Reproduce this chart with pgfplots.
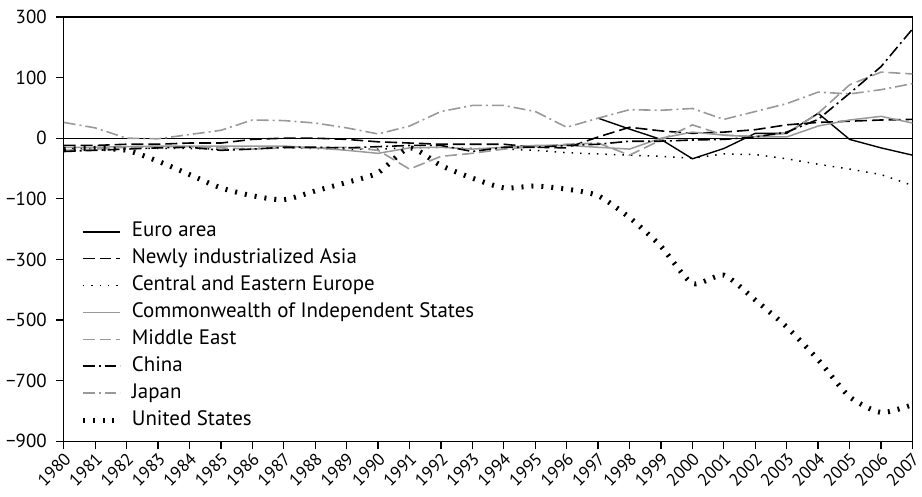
\documentclass[border=0pt]{standalone}
\usepackage{fontspec}
\setmainfont{PT Sans}
\usepackage{pgfplots}
\pgfplotsset{compat=1.18}
\definecolor{lg}{gray}{0.6}
\begin{document}
\begin{tikzpicture}
\begin{axis}[
  scale only axis,
  width=852pt, height=426pt,
  xmin=1980, xmax=2007,
  ymin=-900, ymax=300,
  y coord trafo/.code={\pgfmathparse{abs(#1)<=100 ? #1/100 : (#1>0 ? 1+(#1-100)/200 : -1+(#1+100)/200)}},
  y coord inv trafo/.code={\pgfmathparse{abs(#1)<=1 ? #1*100 : (#1>0 ? 100+(#1-1)*200 : -100+(#1+1)*200)}},
  ytick={300,100,0,-100,-300,-500,-700,-900},
  yticklabels={300,100,0,−100,−300,−500,−700,−900},
  xtick={1980,...,2007},
  xticklabel style={rotate=45, anchor=north east, font=\fontsize{17.5}{20}\selectfont, inner sep=1pt, xshift=-1pt},
  yticklabel style={font=\fontsize{19}{22}\selectfont, inner sep=2pt, xshift=-7pt},
  /pgf/number format/.cd, 1000 sep={}, assume math mode=true, /pgfplots/.cd,
  xtick pos=left, ytick pos=left,
  tick align=outside,
  major tick length=8pt,
  axis line style={line width=1.2pt},
  every tick/.style={black, line width=1.2pt},
  legend style={draw=none, fill=none, at={(0.0155,0.527)}, anchor=north west,
    font=\fontsize{21}{24}\selectfont, row sep=3pt,
    nodes={inner sep=2pt, text height=15pt, text depth=5pt},
    /tikz/every odd column/.append style={column sep=7pt}},
  legend cell align=left,
  legend image code/.code={\draw[#1] (0pt,0pt) -- (38pt,0pt);},
]
\addplot[black, line width=1pt, forget plot] coordinates {(1980,0) (2007,0)};
% Euro area
\addplot[black, line width=1.4pt] coordinates {
(1997,33) (1998,15) (1999,-2) (2000,-34) (2001,-17) (2002,8) (2003,8) (2004,41) (2005,-2) (2006,-16) (2007,-28)};
\addlegendentry{Euro area}
% Newly industrialized Asia
\addplot[black, line width=1.6pt, dash pattern=on 12pt off 5pt] coordinates {
(1980,-12) (1981,-12) (1982,-10) (1983,-10) (1984,-8) (1985,-8) (1986,-2) (1987,0) (1988,0) (1989,-2)
(1990,-6) (1991,-8) (1992,-10) (1993,-10) (1994,-10) (1995,-15) (1996,-16) (1997,2) (1998,18) (1999,12)
(2000,8) (2001,10) (2002,14) (2003,22) (2004,26) (2005,28) (2006,30) (2007,31)};
\addlegendentry{Newly industrialized Asia}
% Central and Eastern Europe
\addplot[black, line width=1.5pt, dash pattern=on 1.5pt off 7pt] coordinates {
(1980,-18) (1981,-17) (1982,-16) (1983,-17) (1984,-17) (1985,-18) (1986,-17) (1987,-16) (1988,-17) (1989,-18)
(1990,-18) (1991,-16) (1992,-15) (1993,-17) (1994,-18) (1995,-20) (1996,-24) (1997,-26) (1998,-28) (1999,-30)
(2000,-33) (2001,-26) (2002,-27) (2003,-34) (2004,-43) (2005,-51) (2006,-60) (2007,-78)};
\addlegendentry{Central and Eastern Europe}
% CIS
\addplot[lg, line width=1.5pt] coordinates {
(1980,-15) (1981,-15) (1982,-14) (1983,-13) (1984,-13) (1985,-13) (1986,-13) (1987,-13) (1988,-16) (1989,-20)
(1990,-25) (1991,-16) (1992,-15) (1993,-18) (1994,-15) (1995,-12) (1996,-12) (1997,-15) (1998,-18) (1999,0)
(2000,10) (2001,5) (2002,2) (2003,2) (2004,20) (2005,30) (2006,36) (2007,25)};
\addlegendentry{Commonwealth of Independent States}
% Middle East
\addplot[lg, line width=1.6pt, dash pattern=on 12pt off 5pt] coordinates {
(1980,-20) (1981,-18) (1982,-15) (1983,-14) (1984,-14) (1985,-16) (1986,-18) (1987,-16) (1988,-16) (1989,-15)
(1990,-20) (1991,-51) (1992,-30) (1993,-25) (1994,-18) (1995,-14) (1996,-10) (1997,-8) (1998,-28) (1999,-3)
(2000,22) (2001,5) (2002,3) (2003,8) (2004,41) (2005,88) (2006,118) (2007,112)};
\addlegendentry{Middle East}
% China
\addplot[black, line width=1.6pt, dash pattern=on 12pt off 4pt on 2pt off 4pt] coordinates {
(1980,-22) (1981,-20) (1982,-18) (1983,-16) (1984,-15) (1985,-20) (1986,-18) (1987,-15) (1988,-15) (1989,-16)
(1990,-14) (1991,-12) (1992,-12) (1993,-22) (1994,-15) (1995,-15) (1996,-12) (1997,-10) (1998,-5) (1999,-5)
(2000,-3) (2001,-2) (2002,2) (2003,10) (2004,31) (2005,74) (2006,136) (2007,260)};
\addlegendentry{China}
% Japan
\addplot[lg, line width=1.6pt, dash pattern=on 12pt off 4pt on 2pt off 4pt] coordinates {
(1980,26) (1981,17) (1982,0) (1983,-1) (1984,6) (1985,13) (1986,30) (1987,29) (1988,25) (1989,17)
(1990,7) (1991,20) (1992,44) (1993,54) (1994,54) (1995,44) (1996,18) (1997,33) (1998,47) (1999,46)
(2000,49) (2001,31) (2002,44) (2003,57) (2004,76) (2005,73) (2006,80) (2007,90)};
\addlegendentry{Japan}
% United States
\addplot[black, line width=5pt, dash pattern=on 2pt off 8pt, smooth, tension=0.4] coordinates {
(1980,-18) (1981,-17) (1982,-20) (1983,-38) (1984,-60) (1985,-82) (1986,-95) (1987,-103) (1988,-87) (1989,-73)
(1990,-57) (1991,-16) (1992,-45) (1993,-66) (1994,-82) (1995,-79) (1996,-84) (1997,-95) (1998,-162) (1999,-257)
(2000,-379) (2001,-352) (2002,-434) (2003,-523) (2004,-631) (2005,-753) (2006,-805) (2007,-779)};
\addlegendentry{United States}
\end{axis}
\path ([xshift=-64pt,yshift=17pt]current axis.north west) ([xshift=6pt,yshift=-55pt]current axis.south east);
\end{tikzpicture}
\end{document}
